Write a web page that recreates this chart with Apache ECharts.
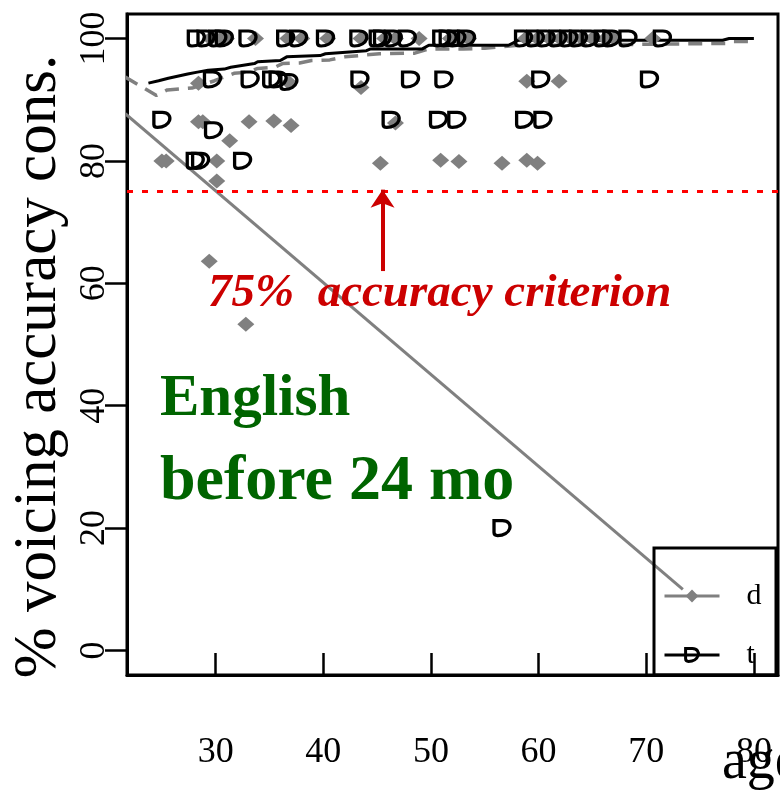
<!DOCTYPE html>
<html>
<head>
<meta charset="utf-8">
<script src="https://cdn.jsdelivr.net/npm/echarts@6/dist/echarts.min.js"></script>
<style>
  html, body { margin: 0; padding: 0; background: #fff; }
  #chart { width: 780px; height: 791px; }
</style>
</head>
<body>
<div id="chart"></div>
<script>
// Axis ticks
const ageTicks = [30, 40, 50, 60, 70, 80];
const pctTicks = [0, 20, 40, 60, 80, 100];

// Individual children, /t/ (age in months, % correct voicing)
const tAge = [
  28.2, 29.1, 30.2, 30.8, 33.0, 36.5, 37.7, 40.2, 43.3, 45.1, 45.5, 46.5, 47.8, 51.0,
  51.6, 52.4, 53.3, 58.6, 59.7, 60.7, 61.8, 62.8, 63.7, 64.8, 66.0, 66.8, 68.3, 71.5,
  29.7, 33.2, 35.2, 35.8, 43.4, 48.1, 51.2, 60.2, 70.3, 36.8,
  25.0, 46.3, 50.7, 52.4, 58.7, 60.4, 29.8,
  28.1, 28.6, 32.5,
  56.6
];
const tPct = [
  100, 100, 100, 100, 100, 100, 100, 100, 100, 100, 100, 100, 100, 100,
  100, 100, 100, 100, 100, 100, 100, 100, 100, 100, 100, 100, 100, 100,
  93.3, 93.3, 93.3, 93.3, 93.3, 93.3, 93.3, 93.3, 93.3, 92.9,
  86.7, 86.7, 86.7, 86.7, 86.7, 86.7, 85.0,
  80, 80, 80,
  20
];

// Individual children, /d/
const dAge = [
  29.5, 30.5, 31.0, 33.7, 36.7, 38.0, 40.4, 43.5, 45.7, 46.7, 48.9, 51.8,
  52.6, 53.5, 58.8, 59.9, 61.0, 62.0, 63.0, 64.0, 65.0, 66.2, 67.0, 70.6,
  28.4, 36.8, 43.5, 58.9, 61.9,
  28.4, 28.8, 33.1, 35.4, 37.0, 46.7,
  31.3,
  25.0, 25.4, 30.1, 45.3, 50.9, 52.6, 56.6, 58.9, 59.9,
  30.1, 29.4, 32.8
];
const dPct = [
  100, 100, 100, 100, 100, 100, 100, 100, 100, 100, 100, 100,
  100, 100, 100, 100, 100, 100, 100, 100, 100, 100, 100, 100,
  92.7, 92.8, 92.0, 93.0, 93.0,
  86.4, 86.4, 86.4, 86.5, 85.8, 86.2,
  83.3,
  80, 80, 80, 79.6, 80.1, 79.9, 79.6, 80.1, 79.6,
  76.7, 63.6, 53.3
];

// Smoothed trends
const tFitAge = [23.75, 24.7, 25.6, 27.4, 28.3, 29.3, 30.8, 31.4, 33.6, 33.9, 36.0, 36.6, 39.7, 40.2, 44.0, 44.4, 49.2, 49.8, 57.2, 58.1, 77.1, 77.7, 80.0];
const tFitPct = [92.7, 93.1, 93.5, 94.2, 94.5, 94.8, 95.0, 95.3, 95.9, 96.2, 96.4, 97.0, 97.2, 97.5, 98.0, 98.3, 98.3, 98.9, 98.9, 99.7, 99.7, 100, 100];

const dFitAge = [21.6, 24.5, 25.5, 27.8, 29.9, 31.7, 33.0, 33.9, 35.5, 36.2, 37.8, 38.9, 40.6, 42.0, 45.2, 48.5, 49.8, 53.0, 55.0, 58.1, 62.0, 77.5, 78.0, 79.5];
const dFitPct = [93.7, 90.7, 91.6, 91.9, 93.1, 94.3, 94.5, 95.1, 95.3, 95.9, 96.0, 96.4, 96.5, 97.0, 97.5, 97.6, 98.3, 98.3, 98.4, 98.9, 98.9, 99.2, 99.5, 99.5];

// Long /d/ trace running into the key
const dTraceAge = [21.6, 73.4];
const dTracePct = [87.7, 10.0];

// Criterion and its pointer
const criterion = 75;
const pointerAge = 45.5;
const pointerFrom = 62.0;

const zip = (a, b) => a.map((v, i) => [v, b[i]]);

const SERIF = 'Liberation Serif';
const GRAY = '#808080';
const T_SYMBOL = 'path://M3,1 L10,1 C15,1 17,5 16,9 C15,13 11,16 6,16 C4,16 3,15 3,13 Z';

const chart = echarts.init(document.getElementById('chart'), null, { renderer: 'canvas' });

chart.setOption({
  animation: false,
  backgroundColor: '#fff',
  grid: {
    left: 121, top: 14, right: 2, bottom: 116,
    show: true, borderColor: '#000', borderWidth: 3, backgroundColor: 'transparent'
  },
  xAxis: {
    type: 'value', min: 21.76, max: 82.24,
    axisLine: { show: true, onZero: false, lineStyle: { color: '#000', width: 3 } },
    splitLine: { show: false },
    axisTick: { show: true, inside: true, length: 22, customValues: ageTicks,
      lineStyle: { color: '#000', width: 2.5 } },
    axisLabel: { customValues: ageTicks, margin: 60, color: '#000',
      fontFamily: SERIF, fontSize: 36 }
  },
  yAxis: {
    type: 'value', min: -4, max: 104,
    name: '% voicing accuracy cons.',
    nameLocation: 'middle', nameRotate: 90, nameGap: 58,
    nameTextStyle: { fontFamily: SERIF, fontSize: 61, color: '#000', padding: [0, 44, 0, 0] },
    axisLine: { show: true, onZero: false, lineStyle: { color: '#000', width: 3 } },
    splitLine: { show: false },
    axisTick: { show: true, inside: false, length: 22, customValues: pctTicks,
      lineStyle: { color: '#000', width: 2.5 } },
    axisLabel: { customValues: pctTicks, rotate: 90, margin: 14, color: '#000',
      fontFamily: SERIF, fontSize: 36 }
  },
  legend: {
    orient: 'vertical', left: 663, top: 581, padding: 0,
    itemWidth: 55, itemHeight: 16, itemGap: 29,
    selectedMode: false,
    textStyle: { fontFamily: SERIF, fontSize: 30, color: '#000', padding: [0, 0, 0, 22] },
    data: [
      { name: 'd', lineStyle: { type: 'solid', width: 3, color: GRAY } },
      { name: 't', lineStyle: { type: 'solid', width: 3, color: '#000' },
        itemStyle: { color: 'transparent', borderColor: '#000', borderWidth: 3 } }
    ]
  },
  series: [
    {
      name: 'd', type: 'line', data: zip(dFitAge, dFitPct),
      symbol: 'diamond', showSymbol: false, silent: true, z: 3,
      itemStyle: { color: GRAY },
      lineStyle: { color: GRAY, width: 3.5, type: [14, 9] }
    },
    {
      name: 't', type: 'line', data: zip(tFitAge, tFitPct),
      symbol: T_SYMBOL, showSymbol: false, silent: true, z: 3,
      itemStyle: { color: '#000' },
      lineStyle: { color: '#000', width: 3 }
    },
    {
      name: 'd', type: 'line', data: zip(dTraceAge, dTracePct),
      showSymbol: false, silent: true, z: 2,
      lineStyle: { color: GRAY, width: 3 },
      markLine: {
        silent: true, animation: false,
        symbol: ['none', 'none'],
        label: { show: false },
        emphasis: { disabled: true },
        data: [
          {
            yAxis: criterion,
            lineStyle: { color: '#ff0000', width: 3, type: [6, 9] }
          },
          [
            { coord: [pointerAge, pointerFrom], symbol: 'none',
              lineStyle: { color: '#cc0000', width: 4, type: 'solid' } },
            { coord: [pointerAge, criterion + 0.3], symbol: 'arrow', symbolSize: 18 }
          ]
        ]
      }
    },
    {
      name: 'd', type: 'scatter', data: zip(dAge, dPct),
      symbol: 'diamond', symbolSize: [17, 15], silent: true, z: 4,
      itemStyle: { color: GRAY, opacity: 1 }
    },
    {
      name: 't', type: 'scatter', data: zip(tAge, tPct),
      symbol: T_SYMBOL, symbolSize: [16, 15], silent: true, z: 5,
      itemStyle: { color: 'transparent', borderColor: '#000', borderWidth: 3.2, opacity: 1 }
    }
  ],
  graphic: [
    {
      type: 'rect', silent: true, z: 10,
      shape: { x: 654, y: 548, width: 122, height: 127 },
      style: { fill: 'transparent', stroke: '#000', lineWidth: 3 }
    },
    {
      type: 'text', silent: true, left: 208, top: 270, z: 10,
      style: { text: '75%  accuracy criterion', fill: '#cc0000',
        font: 'italic bold 47px ' + SERIF }
    },
    {
      type: 'text', silent: true, left: 160, top: 370, z: 10,
      style: { text: 'English', fill: '#006400', font: 'bold 59px ' + SERIF }
    },
    {
      type: 'text', silent: true, left: 160, top: 450, z: 10,
      style: { text: 'before 24 mo', fill: '#006400', font: 'bold 64px ' + SERIF }
    },
    {
      type: 'text', silent: true, left: 722, top: 735, z: 10,
      style: { text: 'age', fill: '#000', font: '56px ' + SERIF }
    }
  ]
});
</script>
</body>
</html>
